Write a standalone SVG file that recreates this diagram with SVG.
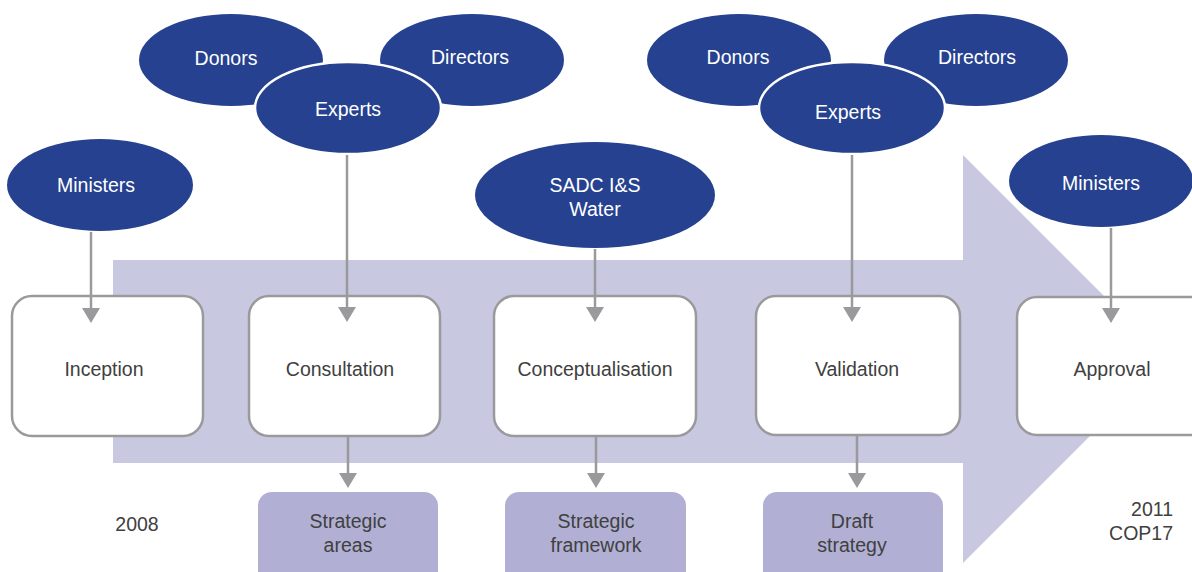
<svg xmlns="http://www.w3.org/2000/svg" width="1192" height="572" viewBox="0 0 1192 572">
<defs>
<style>
.stage{fill:#ffffff;stroke:#9a9a9c;stroke-width:2.5}
.out{fill:#b1b0d4}
.ell{fill:#25418f}
.ellw{fill:#25418f;stroke:#ffffff;stroke-width:2.5}
.t{font-family:"Liberation Sans",Arial,sans-serif;font-size:19.5px;text-anchor:middle;fill:#404040}
.w{font-family:"Liberation Sans",Arial,sans-serif;font-size:19.5px;text-anchor:middle;fill:#ffffff}
.c{stroke:#9a9a9c;stroke-width:2.5;fill:none;marker-end:url(#ah)}
</style>
<marker id="ah" viewBox="0 0 15 18" refX="12" refY="9" markerWidth="15" markerHeight="18" markerUnits="userSpaceOnUse" orient="auto">
<path d="M0,0 L15,9 L0,18 z" fill="#9a9a9c"/>
</marker>
</defs>
<rect width="1192" height="572" fill="#ffffff"/>
<g id="timeline-arrow">
<path d="M113,260 L963,260 L963,155 L1167,359 L963,563 L963,463 L113,463 z" fill="#c8c8e1"/>
</g>
<g id="inception"><rect class="stage" x="12" y="296" width="191" height="140" rx="20"/><text class="t" x="104" y="376">Inception</text></g>
<g id="consultation"><rect class="stage" x="249" y="296" width="191" height="140" rx="20"/><text class="t" x="340" y="376">Consultation</text></g>
<g id="conceptualisation"><rect class="stage" x="494" y="296" width="202" height="140" rx="20"/><text class="t" x="595" y="376">Conceptualisation</text></g>
<g id="validation"><rect class="stage" x="756" y="296" width="204" height="139" rx="20"/><text class="t" x="857" y="376">Validation</text></g>
<g id="approval"><rect class="stage" x="1017" y="297" width="200" height="138" rx="20"/><text class="t" x="1112" y="376">Approval</text></g>
<g id="strategic-areas"><rect class="out" x="258" y="492" width="180" height="100" rx="14"/><text class="t" x="348" y="528">Strategic</text><text class="t" x="348" y="552">areas</text></g>
<g id="strategic-framework"><rect class="out" x="505" y="492" width="181" height="100" rx="14"/><text class="t" x="596" y="528">Strategic</text><text class="t" x="596" y="552">framework</text></g>
<g id="draft-strategy"><rect class="out" x="763" y="492" width="180" height="100" rx="14"/><text class="t" x="852" y="528">Draft</text><text class="t" x="852" y="552">strategy</text></g>
<g id="year-2008"><text class="t" x="137" y="531">2008</text></g>
<g id="year-2011"><text class="t" x="1173" y="516" style="text-anchor:end">2011</text><text class="t" x="1173" y="540" style="text-anchor:end">COP17</text></g>
<g id="ministers-1"><ellipse class="ell" cx="100" cy="185" rx="93" ry="46"/><text class="w" x="96" y="192">Ministers</text></g>
<g id="donors-1"><ellipse class="ell" cx="231" cy="60" rx="92" ry="46"/><text class="w" x="226" y="65">Donors</text></g>
<g id="directors-1"><ellipse class="ell" cx="472" cy="60" rx="92" ry="46"/><text class="w" x="470" y="64">Directors</text></g>
<g id="experts-1"><ellipse class="ellw" cx="348" cy="108" rx="93" ry="46"/><text class="w" x="348" y="116">Experts</text></g>
<g id="sadc"><ellipse class="ell" cx="595" cy="195" rx="120" ry="53"/><text class="w" x="595" y="192">SADC I&amp;S</text><text class="w" x="595" y="216">Water</text></g>
<g id="donors-2"><ellipse class="ell" cx="739" cy="60" rx="92" ry="46"/><text class="w" x="738" y="64">Donors</text></g>
<g id="directors-2"><ellipse class="ell" cx="976" cy="60" rx="92" ry="46"/><text class="w" x="977" y="64">Directors</text></g>
<g id="experts-2"><ellipse class="ellw" cx="852" cy="108" rx="93" ry="46"/><text class="w" x="848" y="119">Experts</text></g>
<g id="ministers-2"><ellipse class="ell" cx="1101" cy="181" rx="92" ry="46"/><text class="w" x="1101" y="190">Ministers</text></g>
<g id="connectors">
<line class="c" x1="91" y1="232" x2="91" y2="320"/>
<line class="c" x1="347" y1="155" x2="347" y2="319"/>
<line class="c" x1="595" y1="249" x2="595" y2="319"/>
<line class="c" x1="852" y1="155" x2="852" y2="319"/>
<line class="c" x1="1111" y1="228" x2="1111" y2="320"/>
<line class="c" x1="348" y1="437" x2="348" y2="485"/>
<line class="c" x1="596" y1="437" x2="596" y2="485"/>
<line class="c" x1="857" y1="436" x2="857" y2="485"/>
</g>
</svg>
